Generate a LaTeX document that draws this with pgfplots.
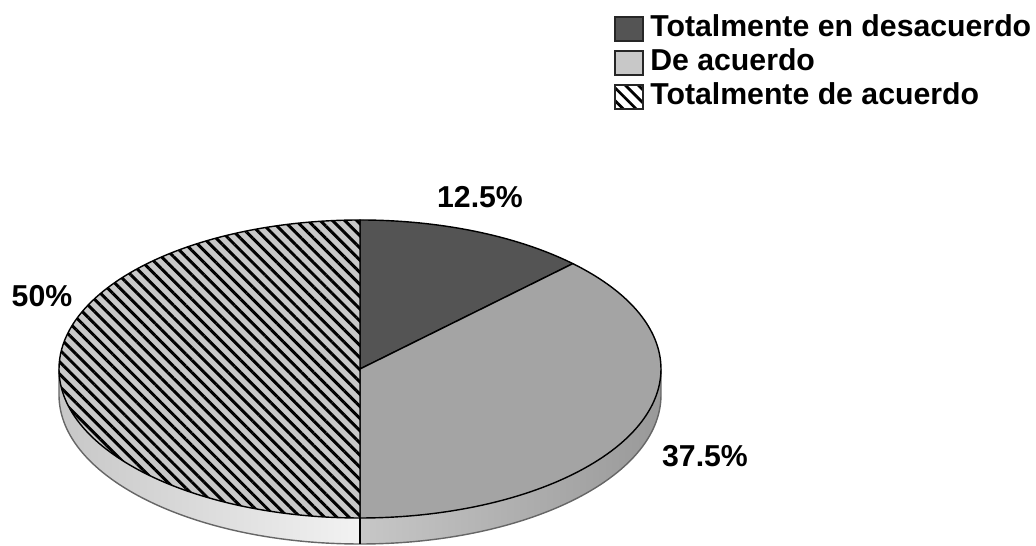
\documentclass[border=0pt]{standalone}
\usepackage{fontspec}
\setmainfont{Liberation Sans}
\usepackage{pgfplots}
\pgfplotsset{compat=1.18}
\usepackage{pgfplotstable}
\usetikzlibrary{patterns.meta}
\definecolor{darkslice}{HTML}{545454}
\definecolor{lightslice}{HTML}{A4A4A4}
\definecolor{hatchbg}{HTML}{C8C8C8}
\definecolor{legendlight}{HTML}{C8C8C8}
\pgfplotstableread{
share
12.5
37.5
50
}\piedata
\begin{document}
\begin{tikzpicture}
\pgfplotstablegetelem{0}{share}\of\piedata \let\sA\pgfplotsretval
\pgfplotstablegetelem{1}{share}\of\piedata \let\sB\pgfplotsretval
\pgfplotstablegetelem{2}{share}\of\piedata \let\sC\pgfplotsretval
\def\cx{360}\def\cy{177}\def\rx{301}\def\ry{149}\def\dd{26}
\pgfmathsetmacro\aA{90}
\pgfmathsetmacro\aB{90-3.6*\sA}
\pgfmathsetmacro\aC{\aB-3.6*\sB}
\pgfmathsetmacro\aD{\aC-3.6*\sC}
\pgfmathsetmacro\pBx{\cx+\rx*cos(\aB)}
\pgfmathsetmacro\pBy{\cy+\ry*sin(\aB)}
\pgfmathsetmacro\pCx{\cx+\rx*cos(\aC)}
\pgfmathsetmacro\pCy{\cy+\ry*sin(\aC)}
\begin{axis}[x={(0.01cm,0)}, y={(0,0.01cm)},
  xmin=0, xmax=1036, ymin=0, ymax=546,
  hide axis, clip=true,
  legend style={at={(axis cs:614,533)}, anchor=north west, draw=none, fill=none,
    inner sep=0pt, outer sep=0pt,
    font=\fontsize{8.6}{10}\selectfont\bfseries,
    row sep=0.6pt, cells={anchor=west},
    nodes={inner sep=0pt, text height=6.7pt, text depth=2.4pt}},
  legend image code/.code={\draw[#1, line width=0.5pt] (0cm,-0.12cm) rectangle (0.28cm,0.12cm);
    \path (0.34cm,0cm);},
]
\path[draw=none] (axis cs:0,0) rectangle (axis cs:1036,546);
\addlegendimage{fill=darkslice, draw=black!85}
\addlegendentry{Totalmente en desacuerdo}
\addlegendimage{fill=legendlight, draw=black!85}
\addlegendentry{De acuerdo}
\addlegendimage{preaction={fill=white}, pattern={Lines[angle=-45,distance=2.6pt,line width=0.8pt]}, pattern color=black, draw=black!85}
\addlegendentry{Totalmente de acuerdo}

% side under light slice
\shade[left color=black!22, right color=black!40]
  (axis cs:\cx,\cy-\ry) arc[start angle=270, end angle=360, x radius=\rx, y radius=\ry]
  -- (axis cs:\cx+\rx,\cy-\dd) arc[start angle=360, end angle=270, x radius=\rx, y radius=\ry] -- cycle;
% side under hatched slice
\shade[left color=black!22, right color=black!5]
  (axis cs:\cx-\rx,\cy) arc[start angle=180, end angle=270, x radius=\rx, y radius=\ry]
  -- (axis cs:\cx,\cy-\ry-\dd) arc[start angle=270, end angle=180, x radius=\rx, y radius=\ry] -- cycle;
\draw[black!60, line width=0.4pt]
  (axis cs:\cx-\rx,\cy) -- (axis cs:\cx-\rx,\cy-\dd)
  arc[start angle=180, end angle=360, x radius=\rx, y radius=\ry] -- (axis cs:\cx+\rx,\cy);
\draw[black, line width=0.5pt] (axis cs:\cx,\cy-\ry) -- (axis cs:\cx,\cy-\ry-\dd);

% top slices
\fill[darkslice, draw=black, line width=0.4pt]
  (axis cs:\cx,\cy) -- (axis cs:\cx,\cy+\ry)
  arc[start angle=\aA, end angle=\aB, x radius=\rx, y radius=\ry] -- cycle;
\fill[lightslice, draw=black, line width=0.4pt]
  (axis cs:\cx,\cy) -- (axis cs:\pBx,\pBy)
  arc[start angle=\aB, end angle=\aC, x radius=\rx, y radius=\ry] -- cycle;
\path[preaction={fill=hatchbg}, pattern={Lines[angle=-45,distance=2.45pt,line width=0.85pt]}, pattern color=black, draw=black, line width=0.4pt]
  (axis cs:\cx,\cy) -- (axis cs:\pCx,\pCy)
  arc[start angle=\aC, end angle=\aD, x radius=\rx, y radius=\ry] -- cycle;

% labels
\node[font=\fontsize{8.6}{10}\selectfont\bfseries] at (axis cs:480,349) {12.5\%};
\node[font=\fontsize{8.6}{10}\selectfont\bfseries] at (axis cs:42,250) {50\%};
\node[font=\fontsize{8.6}{10}\selectfont\bfseries] at (axis cs:705,90) {37.5\%};
\end{axis}
\end{tikzpicture}
\end{document}
